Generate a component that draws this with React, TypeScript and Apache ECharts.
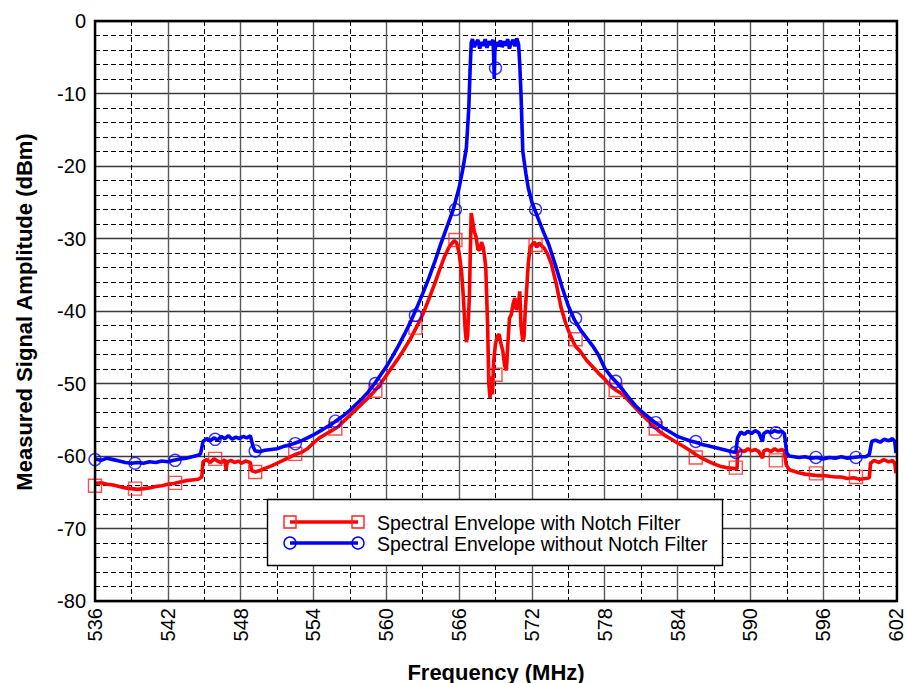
import React, { useEffect, useRef } from "react";
import * as echarts from "echarts";

const F_MIN = 536;
const F_MAX = 602;
const xTickLabels = ["536", "542", "548", "554", "560", "566", "572", "578", "584", "590", "596", "602"];

// Spectral Envelope with Notch Filter: [MHz, dBm]
const redEnvelope: [number, number][] = [
  [536.0, -63.8], [536.5, -63.7], [537.0, -63.9], [537.5, -64.0], [538.0, -64.2], [538.5, -64.4],
  [539.0, -64.5], [539.5, -64.6], [540.0, -64.5], [540.5, -64.4], [541.0, -64.2], [541.5, -64.1],
  [542.0, -63.9], [542.5, -63.8], [543.0, -63.6], [543.5, -63.4], [544.0, -63.3], [544.5, -63.2],
  [544.8, -62.9], [544.9, -60.8], [545.2, -60.5], [545.5, -60.9], [545.8, -60.4], [546.1, -60.7],
  [546.4, -60.9], [546.7, -60.5], [546.8, -61.9], [546.9, -60.8], [547.2, -60.6], [547.5, -60.9],
  [547.8, -60.7], [548.1, -61.0], [548.4, -60.7], [548.8, -60.9], [548.9, -62.0], [549.2, -62.2],
  [549.6, -62.0], [550.0, -61.7], [550.5, -61.4], [551.0, -61.0], [551.5, -60.6], [552.0, -60.2],
  [552.5, -59.8], [553.0, -59.5], [553.5, -59.0], [554.0, -58.2], [554.5, -57.5], [555.0, -57.0],
  [555.5, -56.5], [556.0, -56.0], [556.5, -55.2], [557.0, -54.4], [557.5, -53.6], [558.0, -52.8],
  [558.5, -52.0], [559.0, -51.1], [559.5, -50.1], [560.0, -48.9], [560.5, -47.7], [561.0, -46.5],
  [561.5, -45.2], [562.0, -43.8], [562.5, -42.2], [563.0, -40.5], [563.5, -38.4], [564.0, -36.2],
  [564.4, -34.3], [564.8, -32.5], [565.2, -31.1], [565.6, -30.3], [565.8, -30.6], [566.0, -32.0],
  [566.2, -34.5], [566.35, -38.0], [566.5, -42.5], [566.6, -44.3], [566.7, -43.5], [566.85, -38.0],
  [566.95, -30.0], [567.0, -26.5], [567.1, -27.5], [567.25, -29.0], [567.4, -29.8], [567.55, -31.5],
  [567.7, -31.6], [567.85, -30.5], [568.0, -31.3], [568.1, -32.5], [568.2, -34.0], [568.35, -42.0],
  [568.45, -50.0], [568.55, -52.0], [568.65, -49.0], [568.75, -51.5], [568.85, -47.0], [569.0, -44.5],
  [569.15, -43.5], [569.3, -43.2], [569.45, -44.5], [569.6, -45.5], [569.75, -47.5], [569.9, -48.2],
  [570.0, -45.0], [570.15, -41.0], [570.3, -40.5], [570.45, -39.0], [570.6, -38.2], [570.7, -39.8],
  [570.85, -39.5], [571.0, -37.3], [571.1, -42.0], [571.25, -44.2], [571.35, -43.6], [571.45, -40.0],
  [571.55, -37.5], [571.7, -33.5], [571.85, -31.2], [572.0, -30.9], [572.2, -30.5], [572.4, -31.2],
  [572.6, -30.6], [572.8, -31.0], [573.0, -31.3], [573.3, -32.2], [573.6, -33.5], [574.0, -36.2],
  [574.4, -39.5], [574.8, -41.8], [575.2, -43.5], [575.6, -44.9], [576.0, -45.6], [576.5, -46.8],
  [577.0, -47.7], [577.5, -48.6], [578.0, -49.4], [578.5, -50.4], [579.0, -51.0], [579.5, -51.5],
  [580.0, -52.4], [580.5, -53.3], [581.0, -54.2], [581.5, -55.0], [582.0, -55.8], [582.5, -56.6],
  [583.0, -57.2], [583.5, -57.7], [584.0, -58.2], [584.5, -58.7], [585.0, -59.2], [585.5, -59.8],
  [586.0, -60.3], [586.5, -60.7], [587.0, -61.1], [587.5, -61.4], [588.0, -61.6], [588.5, -61.7],
  [588.9, -61.8], [588.95, -59.5], [589.2, -59.2], [589.5, -59.4], [589.8, -59.0], [590.1, -59.3],
  [590.4, -59.1], [590.7, -59.4], [591.0, -60.3], [591.1, -59.3], [591.4, -59.1], [591.7, -59.4],
  [592.0, -59.0], [592.3, -59.3], [592.6, -59.1], [592.8, -59.3], [592.95, -61.2], [593.2, -61.9],
  [593.6, -62.1], [594.0, -62.3], [594.5, -62.5], [595.0, -62.6], [595.5, -62.7], [596.0, -62.7],
  [596.5, -62.8], [597.0, -62.9], [597.5, -62.9], [598.0, -63.1], [598.5, -63.0], [599.0, -63.2],
  [599.5, -63.1], [599.8, -63.0], [599.9, -61.0], [600.2, -60.6], [600.6, -60.9], [601.0, -60.5],
  [601.4, -60.8], [601.7, -60.6], [601.9, -61.0], [602.0, -62.4],
];

// Spectral Envelope without Notch Filter: [MHz, dBm]
const blueEnvelope: [number, number][] = [
  [536.0, -60.4], [536.5, -60.6], [537.0, -60.3], [537.5, -60.5], [538.0, -60.7], [538.5, -60.9],
  [539.0, -61.0], [539.5, -60.9], [540.0, -61.0], [540.5, -60.8], [541.0, -60.9], [541.5, -60.7],
  [542.0, -60.8], [542.5, -60.6], [543.0, -60.4], [543.5, -60.3], [544.0, -60.1], [544.5, -59.9],
  [544.7, -59.7], [544.9, -58.0], [545.2, -57.6], [545.5, -57.9], [545.8, -57.5], [546.1, -57.8],
  [546.4, -57.3], [546.7, -57.6], [547.0, -57.2], [547.3, -57.7], [547.6, -57.4], [547.9, -57.6],
  [548.2, -57.3], [548.5, -57.5], [548.8, -57.2], [549.0, -58.6], [549.2, -59.3], [549.6, -59.4],
  [550.0, -59.2], [550.5, -59.1], [551.0, -59.0], [551.5, -58.7], [552.0, -58.5], [552.5, -58.2],
  [553.0, -57.9], [553.5, -57.5], [554.0, -57.1], [554.5, -56.6], [555.0, -56.1], [555.5, -55.6],
  [556.0, -55.0], [556.5, -54.4], [557.0, -53.7], [557.5, -52.9], [558.0, -52.1], [558.5, -51.2],
  [559.0, -50.1], [559.5, -48.9], [560.0, -47.7], [560.5, -46.3], [561.0, -44.8], [561.5, -43.2],
  [562.0, -41.5], [562.5, -39.6], [563.0, -37.6], [563.5, -35.5], [564.0, -33.2], [564.5, -30.7],
  [565.0, -28.4], [565.5, -26.1], [566.0, -23.0], [566.3, -20.5], [566.6, -17.5], [566.8, -12.0],
  [566.9, -7.0], [567.0, -3.0], [567.1, -2.5], [567.25, -3.6], [567.4, -3.0], [567.55, -2.6],
  [567.7, -3.8], [567.85, -2.9], [568.0, -3.4], [568.15, -2.5], [568.3, -3.7], [568.45, -2.8],
  [568.6, -3.3], [568.8, -2.6], [568.85, -5.0], [568.9, -8.0], [568.95, -4.0], [569.1, -2.9],
  [569.25, -3.5], [569.4, -2.7], [569.55, -3.6], [569.7, -2.8], [569.85, -3.4], [570.0, -2.5],
  [570.15, -3.8], [570.3, -3.0], [570.45, -2.6], [570.6, -3.5], [570.75, -2.4], [570.9, -3.2],
  [571.0, -6.0], [571.1, -10.0], [571.25, -18.0], [571.5, -21.0], [571.7, -23.0], [572.0, -25.0],
  [572.3, -26.3], [572.6, -27.6], [573.0, -29.3], [573.4, -30.9], [574.0, -34.0], [574.5, -36.8],
  [575.0, -39.3], [575.5, -41.2], [576.0, -42.6], [576.5, -43.7], [577.0, -44.8], [577.5, -46.1],
  [578.0, -47.9], [578.5, -49.0], [579.0, -49.9], [579.5, -50.9], [580.0, -52.0], [580.5, -53.0],
  [581.0, -53.8], [581.5, -54.5], [582.0, -55.2], [582.5, -55.8], [583.0, -56.3], [583.5, -56.8],
  [584.0, -57.3], [584.5, -57.6], [585.0, -57.9], [585.5, -58.1], [586.0, -58.4], [586.5, -58.6],
  [587.0, -58.8], [587.5, -59.0], [588.0, -59.2], [588.5, -59.4], [588.8, -59.5], [588.95, -57.5],
  [589.2, -56.7], [589.5, -57.0], [589.8, -56.6], [590.1, -56.9], [590.4, -56.5], [590.7, -56.8],
  [591.0, -58.0], [591.1, -56.9], [591.4, -56.6], [591.7, -56.8], [592.0, -56.5], [592.3, -56.7],
  [592.6, -56.6], [592.8, -56.9], [593.0, -59.6], [593.2, -60.0], [593.6, -60.1], [594.0, -60.2],
  [594.5, -60.1], [595.0, -60.3], [595.5, -60.2], [596.0, -60.4], [596.5, -60.2], [597.0, -60.3],
  [597.5, -60.1], [598.0, -60.3], [598.5, -60.2], [599.0, -60.1], [599.5, -60.1], [599.8, -59.8],
  [600.0, -58.0], [600.3, -57.8], [600.7, -58.1], [601.0, -57.7], [601.4, -57.9], [601.7, -57.6],
  [601.9, -58.0], [602.0, -59.6],
];

// marker positions (MHz) and marker values
const markerFreqs = [536.0, 539.3, 542.6, 545.9, 549.2, 552.5, 555.8, 559.1, 562.4, 565.7, 569.0,
  572.3, 575.6, 578.9, 582.2, 585.5, 588.8, 592.1, 595.4, 598.7];
const redMarkers = [-64.1, -64.5, -63.7, -60.4, -62.2, -59.7, -56.2, -51.0, -42.3, -30.2, -48.8,
  -30.9, -43.9, -50.9, -56.2, -60.2, -61.6, -60.6, -62.4, -62.9];
const blueMarkers = [-60.5, -61.0, -60.6, -57.7, -59.3, -58.3, -55.2, -50.0, -40.6, -26.0, -6.5,
  -26.0, -41.0, -49.7, -55.4, -58.0, -59.5, -56.8, -60.2, -60.2];

const seriesNames = ["Spectral Envelope with Notch Filter", "Spectral Envelope without Notch Filter"];

const FONT = "'Liberation Sans', Arial, sans-serif";

const toXY = (pts: [number, number][]) => pts.map(([f, v]) => [f - F_MIN, v]);
const markerXY = (vals: number[]) => markerFreqs.map((f, i) => [f - F_MIN, vals[i]]);

export default function App() {
  const ref = useRef<HTMLDivElement>(null);
  useEffect(() => {
    if (!ref.current) return;
    const chart = echarts.init(ref.current, undefined, { renderer: "svg" });
    const gridL = 95, gridT = 21, gridW = 802, gridH = 580;
    const Z = 200;
    const option: any = {
      animation: false,
      backgroundColor: "#fff",
      grid: { left: gridL, top: gridT, width: gridW, height: gridH, show: false },
      xAxis: {
        type: "value",
        min: 0,
        max: F_MAX - F_MIN,
        interval: 6,
        axisLine: { show: false },
        axisTick: { show: false },
        minorTick: { show: false, splitNumber: 2 },
        axisLabel: {
          rotate: 90,
          margin: 7,
          fontSize: 20,
          color: "#000",
          fontFamily: FONT,
          formatter: (v: number, i: number) => xTickLabels[i] ?? String(v + F_MIN),
        },
        splitLine: { show: true, lineStyle: { color: "#5a5a5a", width: 1.4, type: "solid" } },
        minorSplitLine: { show: true, lineStyle: { color: "#000", width: 1, type: [5, 3] } },
      },
      yAxis: {
        type: "value",
        min: -80,
        max: 0,
        interval: 10,
        axisLine: { show: false },
        axisTick: { show: false },
        minorTick: { show: false, splitNumber: 5 },
        axisLabel: { margin: 9, fontSize: 20, color: "#000", fontFamily: FONT },
        splitLine: { show: true, lineStyle: { color: "#3a3a3a", width: 1.4, type: "solid" } },
        minorSplitLine: { show: true, lineStyle: { color: "#000", width: 1, type: [5, 3] } },
      },
      series: [
        {
          name: seriesNames[0],
          type: "line",
          data: toXY(redEnvelope),
          showSymbol: false,
          lineStyle: { color: "#ff0000", width: 3.6 },
          z: 3,
        },
        {
          name: seriesNames[0] + " markers",
          type: "scatter",
          data: markerXY(redMarkers),
          symbol: "rect",
          symbolSize: 13,
          itemStyle: { color: "rgba(0,0,0,0)", borderColor: "#ff2020", borderWidth: 1.4 },
          z: 4,
        },
        {
          name: seriesNames[1],
          type: "line",
          data: toXY(blueEnvelope),
          showSymbol: false,
          lineStyle: { color: "#0000ff", width: 3.6 },
          z: 5,
        },
        {
          name: seriesNames[1] + " markers",
          type: "scatter",
          data: markerXY(blueMarkers),
          symbol: "circle",
          symbolSize: 12,
          itemStyle: { color: "rgba(0,0,0,0)", borderColor: "#0000ff", borderWidth: 1.4 },
          z: 6,
        },
      ],
      graphic: [
        {
          type: "rect",
          z: Z,
          shape: { x: gridL, y: gridT, width: gridW, height: gridH },
          style: { fill: "none", stroke: "#000", lineWidth: 2.4 },
        },
        {
          type: "rect",
          z: Z,
          shape: { x: 267.5, y: 499.5, width: 455, height: 66 },
          style: { fill: "#fff", stroke: "#000", lineWidth: 1.4 },
        },
        { type: "line", z: Z + 1, shape: { x1: 290, y1: 522, x2: 358, y2: 522 }, style: { stroke: "#ff0000", lineWidth: 3.6 } },
        { type: "rect", z: Z + 2, shape: { x: 284, y: 516, width: 12, height: 12 }, style: { fill: "none", stroke: "#ff2020", lineWidth: 1.4 } },
        { type: "rect", z: Z + 2, shape: { x: 352, y: 516, width: 12, height: 12 }, style: { fill: "none", stroke: "#ff2020", lineWidth: 1.4 } },
        { type: "line", z: Z + 1, shape: { x1: 290, y1: 543, x2: 358, y2: 543 }, style: { stroke: "#0000ff", lineWidth: 3.6 } },
        { type: "circle", z: Z + 2, shape: { cx: 290, cy: 543, r: 6 }, style: { fill: "none", stroke: "#0000ff", lineWidth: 1.4 } },
        { type: "circle", z: Z + 2, shape: { cx: 358, cy: 543, r: 6 }, style: { fill: "none", stroke: "#0000ff", lineWidth: 1.4 } },
        {
          type: "text", z: Z + 2, x: 377, y: 523,
          style: { text: seriesNames[0], fontSize: 19.5, fontFamily: FONT, fill: "#000", verticalAlign: "middle" },
        },
        {
          type: "text", z: Z + 2, x: 377, y: 544,
          style: { text: seriesNames[1], fontSize: 19.5, fontFamily: FONT, fill: "#000", verticalAlign: "middle" },
        },
        {
          type: "text",
          z: Z,
          x: 496, y: 672,
          style: {
            text: "Frequency (MHz)", fontSize: 22, fontWeight: "bold", fontFamily: FONT, fill: "#000",
            align: "center", verticalAlign: "middle",
          },
        },
        {
          type: "text",
          z: Z,
          x: 24, y: 312,
          rotation: Math.PI / 2,
          style: {
            text: "Measured Signal Amplitude (dBm)", fontSize: 22, fontWeight: "bold", fontFamily: FONT, fill: "#000",
            align: "center", verticalAlign: "middle",
          },
        },
      ],
    };
    chart.setOption(option);
    return () => chart.dispose();
  }, []);
  return <div ref={ref} style={{ width: 906, height: 683, position: "absolute", left: 0, top: 0 }} />;
}
